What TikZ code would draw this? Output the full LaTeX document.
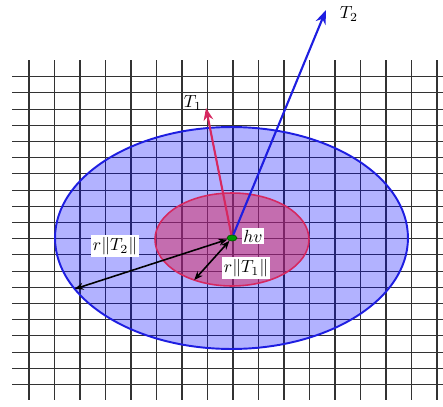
\documentclass[tikz,border=0pt]{standalone}
\usepackage{xcolor}
\usepackage{tikz}
\usetikzlibrary{shapes.geometric, arrows.meta}

\definecolor{crim}{RGB}{214,40,96}
\definecolor{bblue}{RGB}{30,30,225}

\begin{document}
\begin{tikzpicture}[x=0.02cm, y=-0.02cm,
    gridline/.style={draw=black!80, line width=0.6pt},
    region/.style={ellipse, inner sep=0pt, outer sep=0pt},
    lbl/.style={fill=white, inner sep=1pt}]

    \useasboundingbox (0,0) rectangle (443,406);

    % Raster
    \foreach \i in {0,...,16} {
        \draw[gridline] ({29+25.5*\i},60) -- ({29+25.5*\i},400);
    }
    \foreach \j in {0,...,19} {
        \draw[gridline] (12,{76.7+16.2*\j}) -- (443,{76.7+16.2*\j});
    }

    % Gebieden
    \node[region, draw=bblue, line width=1.1pt, fill=blue, fill opacity=0.3,
          minimum width=7.06cm, minimum height=4.44cm] (big) at (231.5,238) {};
    \node[region, draw=crim, line width=0.9pt, fill=crim, fill opacity=0.5,
          minimum width=3.08cm, minimum height=1.86cm] (small) at (232,239.5) {};

    % Richtingen
    \coordinate (c) at (232,238);
    \coordinate (t2tip) at (326,10);
    \coordinate (t1tip) at (206,108);
    \draw[-{Stealth[length=8pt, width=6pt]}, bblue, line width=1.2pt] (c) -- (t2tip);
    \draw[-{Stealth[length=7pt, width=5.5pt]}, crim, line width=1.2pt] (c) -- (t1tip);
    \node (T2) at (349,14) {$T_2$};
    \node (T1) at (193,103) {$T_1$};

    % Punt
    \node[ellipse, draw=green!35!black, fill=green!60!black, line width=0.4pt,
          minimum width=2mm, minimum height=1.2mm, inner sep=0pt] (hv) at (c) {};

    % Stralen
    \draw[{Stealth[length=5pt, width=4pt]}-{Stealth[length=5pt, width=4pt]}, line width=0.9pt] (hv) -- (big.198);
    \draw[{Stealth[length=5pt, width=4pt]}-{Stealth[length=5pt, width=4pt]}, line width=0.9pt] (hv) -- (small.227);

    \node[lbl] (hvl) at (253,236) {$hv$};
    \node[lbl] (rT2) at (115,246) {$r\|T_2\|$};
    \node[lbl] (rT1) at (246,268) {$r\|T_1\|$};

\end{tikzpicture}
\end{document}
